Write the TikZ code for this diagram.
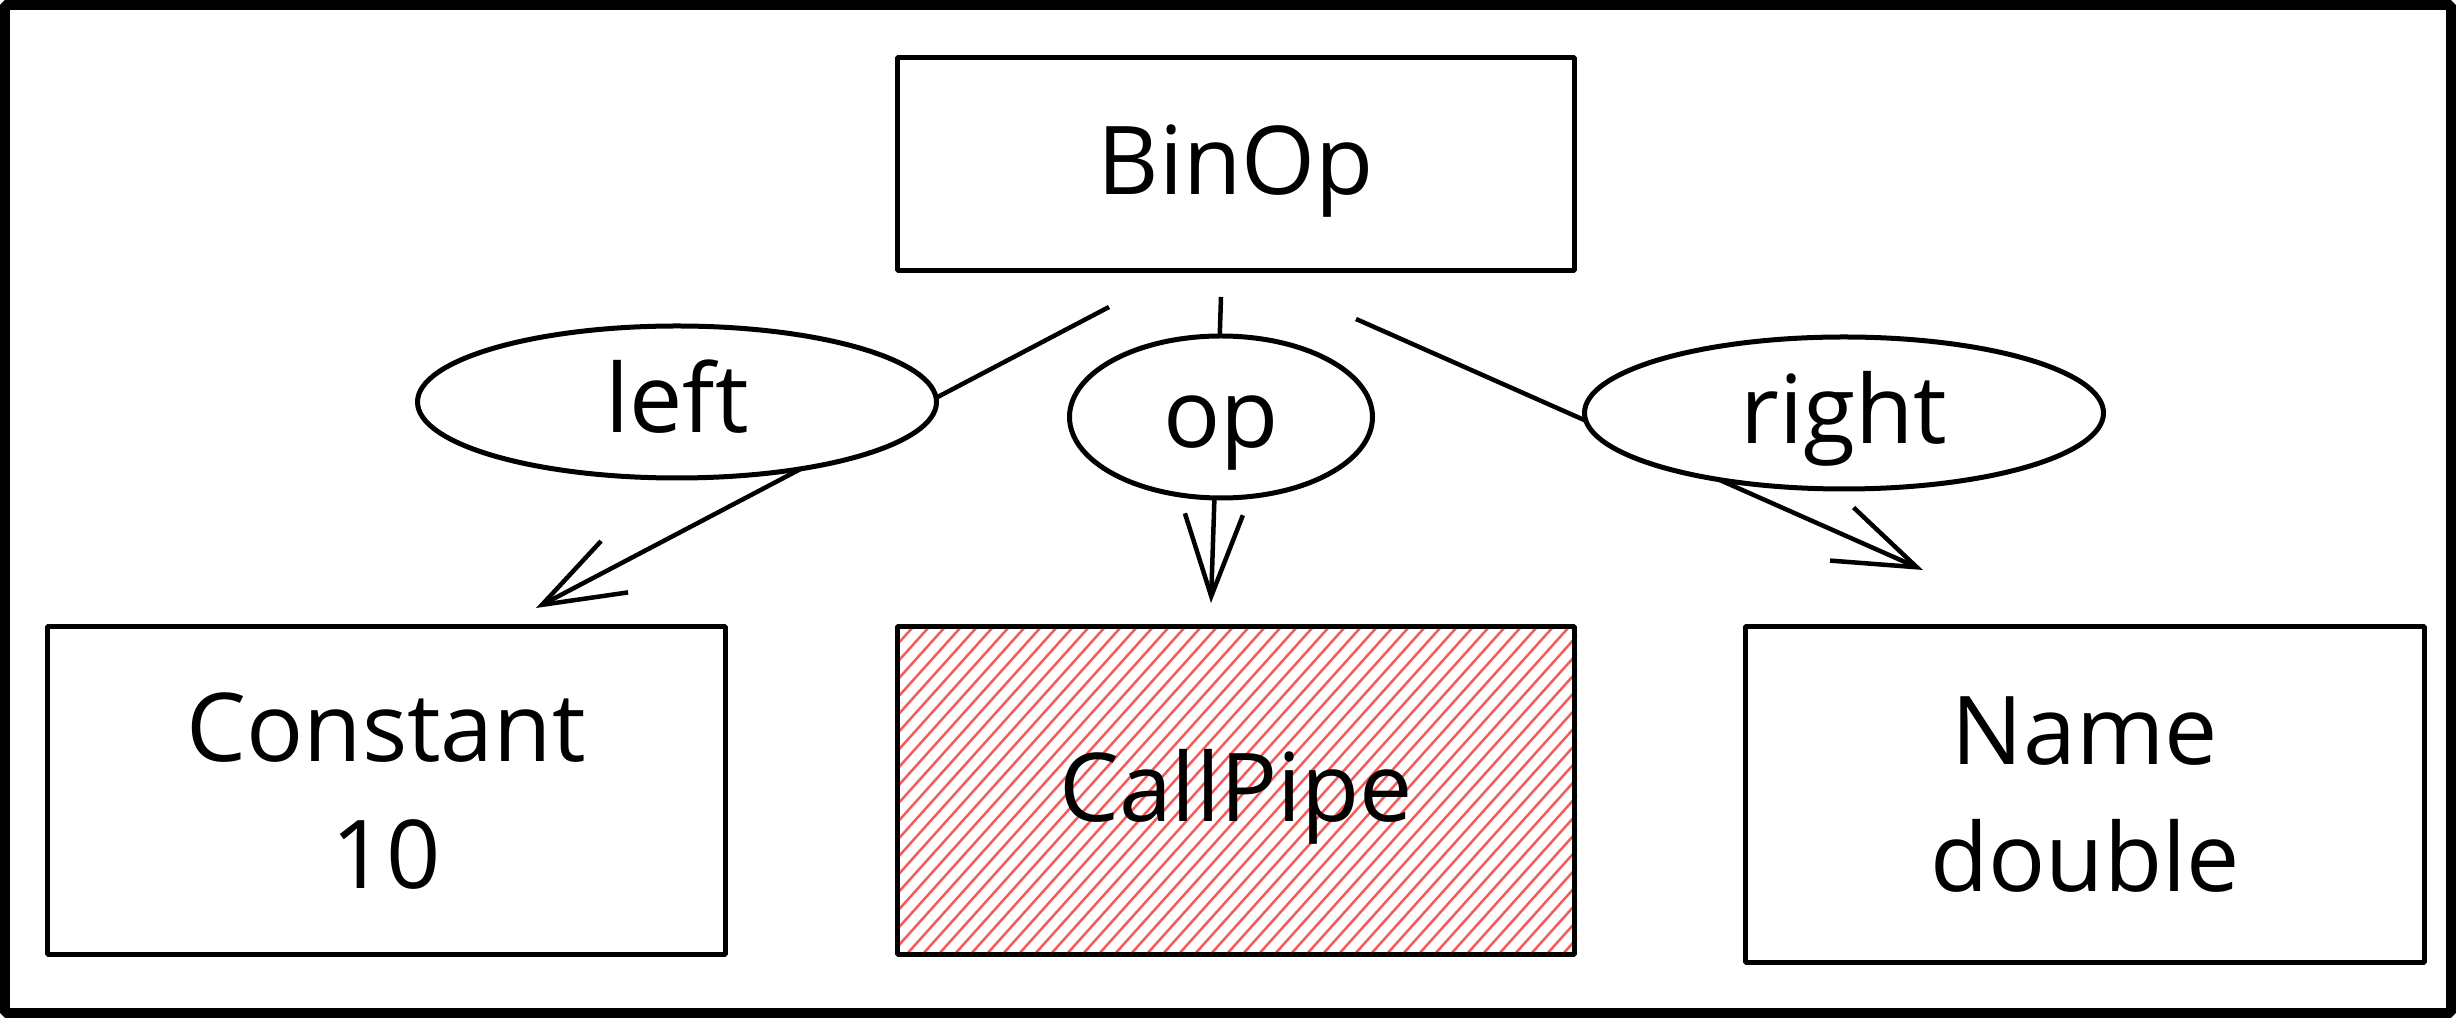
\documentclass[tikz,border=0pt]{standalone}
\usepackage{fontspec}
\setmainfont{Open Sans}
\usetikzlibrary{arrows.meta,shapes.geometric,backgrounds}
\definecolor{hatchred}{HTML}{F45B5B}
\begin{document}
\begin{tikzpicture}[>={Straight Barb[length=82bp,width=58bp]},line join=bevel,
  font=\fontsize{95bp}{127bp}\selectfont,
  box/.style={draw,line width=5bp,inner sep=0pt,align=center},
  blob/.style={ellipse,draw,line width=5bp,fill=white,inner sep=0pt,text height=80bp,text depth=18bp},
  link/.style={black,line width=4.5bp,->},
]
\useasboundingbox (0bp,0bp) rectangle (2456bp,1018bp);
%%
\node (node_0) at (1236bp,854bp) [box,minimum width=677bp,minimum height=213bp,text height=80bp,text depth=18bp] {BinOp};
  \node (node_1) at (677bp,616bp) [blob,minimum width=519bp,minimum height=152bp] {left};
  \node (node_2) at (1221bp,601bp) [blob,minimum width=303bp,minimum height=162bp] {op};
  \node (node_3) at (1844bp,605bp) [blob,minimum width=519bp,minimum height=152bp] {right};
  \node (node_4) at (386bp,227bp) [box,minimum width=678bp,minimum height=328bp] {Constant\\10};
  \node (node_5) at (1236bp,227bp) [box,minimum width=677bp,minimum height=328bp,text height=80bp,text depth=18bp] {CallPipe};
  \node (node_6) at (2085bp,223bp) [box,minimum width=679bp,minimum height=336bp] {Name\\double};
%
  \coordinate (tail_4) at (1109bp,711bp);
  \coordinate (head_4) at (536bp,410bp);
  \coordinate (tail_5) at (1221bp,721bp);
  \coordinate (head_5) at (1211bp,415bp);
  \coordinate (tail_6) at (1356bp,699bp);
  \coordinate (head_6) at (1923bp,448bp);
\begin{scope}[on background layer]
  \draw [link] (tail_4) -- (head_4);
  \draw [link] (tail_5) -- (head_5);
  \draw [link] (tail_6) -- (head_6);
  \clip (node_5.south west) rectangle (node_5.north east);
  \foreach \x in {602,618,...,1574}
    \draw [hatchred,line width=2.5bp] (\x bp,63bp) -- ++(295bp,328bp);
\end{scope}
%
\draw [line width=10bp] (5bp,5bp) rectangle (2451bp,1013bp);
\end{tikzpicture}
\end{document}
